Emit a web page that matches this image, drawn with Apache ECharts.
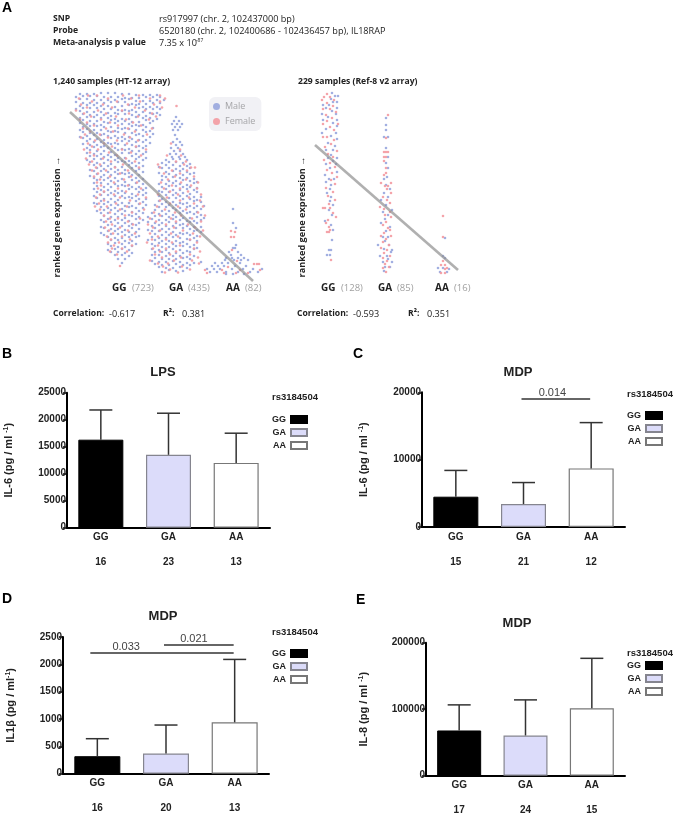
<!DOCTYPE html>
<html><head><meta charset="utf-8">
<style>html,body{margin:0;padding:0;background:#fff}#c{width:675px;height:816px}</style>
<script src="https://cdn.jsdelivr.net/npm/echarts@6/dist/echarts.min.js"></script>
</head><body><div id="c"></div>
<script>
// Swarm rows: [rank, swarmX, swarmX, ...]
const htGGMale=[[192,101,108,115],[191,80,87,94,122,129],[190,136,143,150,157],[189,83,90,97],[188,76,104,111,118],[187,125,132,139],[188,146,153,160],[186,80,87,122,129],[185,94,101,108,115],[184,136,143,150],[185,157,164],[183,76,111,118,125],[182,83,90,97,104],[181,132,139,146],[182,153,160],[180,87,94,129,136],[179,80,101,108,122],[178,115,143,150,157],[177,83,90,97,139],[176,76,104,111,146,153],[175,118,125,132],[176,160],[174,80,122,129],[173,87,94,101,136,143],[172,108,115,150,157],[171,83,118,125,153],[170,90,97,104,132,139],[169,111,146],[170,160],[168,87,94,136],[167,80,101,108,143,150],[166,115,122,129,157],[165,83,111,146],[164,90,97,118,125,153],[163,104,132,139],[162,80,108,115,150],[161,87,94,122,129],[160,101,136,143],[159,90,97,132,139],[158,83,104,111,146],[157,118,125,153],[156,87,122,129],[155,80,94,101,136,143],[154,108,115,150],[153,83,111,118,146],[152,90,97,125,132],[151,104,139,153],[150,94,101,136],[149,87,108,115,143],[148,80,122,129,150],[147,83,111,118],[146,90,97,125,132],[145,104,139,146],[144,87,122,129],[143,94,101,136,143],[142,108,115,150],[141,83,111,118],[140,90,97,125,132],[139,104,139,146],[138,94,101,136],[137,87,108,115,143],[136,122,129],[135,90,118,125],[134,97,104,132,139],[133,111,146],[132,87,122,129],[131,94,101,136,143],[130,108,115],[129,90,97,132],[128,104,111,139],[127,118,125,146],[126,94,101,136],[125,87,108,115,143],[124,122,129],[123,90,118,125],[122,97,104,132,139],[121,111],[120,94,129],[119,101,108,136,143],[118,115,122],[117,97,132],[116,104,111,139],[115,90,118,125],[114,94,101,136],[113,108,115,143],[112,122,129],[111,97,118,125],[110,104,111,132,139],[109,90],[108,101,129],[107,94,108,115,136],[106,122,143],[105,97,104,132],[104,111,118,139],[103,125],[102,94,101,136],[101,108,115,143],[100,122,129],[99,97,118,125],[98,104,111,132,139],[97,146],[96,94,129,136],[95,101,108,143],[94,115,122],[93,97,104,139],[92,111,118,125,146],[91,132],[90,101,108,143],[89,94,115,122,136],[88,129],[87,97,125,132],[86,104,111,139,146],[85,118],[84,101,136],[83,108,115,143],[82,94,122,129],[81,97,104,139],[80,111,118,146],[79,125,132],[78,101,129],[77,108,115,136,143],[76,122],[75,104,111],[74,97,118,125,139],[73,132],[72,101,108,143],[71,115,122,136],[70,129],[69,104,132],[68,111,118,139],[67,125],[66,108,136],[65,101,115,122,143],[64,129],[63,104,111],[62,118,125,139],[61,132],[60,108,136],[59,115,122,129],[58,101],[57,104,132],[56,111,118,139],[55,125],[54,108,115],[53,122,129,136],[52,101],[51,111,118],[50,104,125,132],[49,139],[48,108,129,136],[47,115,122],[45,111,118],[44,125,132],[42,115,129],[41,108,122,136],[39,111,132],[38,118,125],[36,115,122],[35,108,129],[33,111,118],[32,125,132],[30,115,122],[29,129],[26,118,125],[22,122]];
const htGGFemale=[[189.5,88,97,123,139,160],[186.5,79,108,131,150,165],[183.5,92,117,140,160],[180.5,81,103,128,154],[177.5,87,112,135,162],[174.5,76,98,122,145],[171.5,84,106,129,152],[168.5,91,116,138,156],[165.5,80,101,126,149],[162.5,87,110,133],[159.5,94,118,141],[156.5,83,106,128,152],[153.5,90,113,135],[150.5,85,100,124,147],[147.5,81,108,130],[144.5,95,117,138],[141.5,88,104,127],[138.5,92,112,136],[135.5,84,98,122,146],[132.5,90,109,131],[129.5,94,117,141],[126.5,86,103,126],[123.5,92,111,135],[120.5,89,100,123],[117.5,96,115,139],[114.5,92,106,128],[111.5,98,120],[108.5,94,110,131],[105.5,100,124],[102.5,97,114,137],[99.5,101,128],[96.5,98,118,141],[93.5,104,126],[90.5,100,114,138],[87.5,96,120,146],[84.5,104,130],[81.5,99,116,140],[78.5,95,107,127],[75.5,100,120,144],[72.5,110,132],[69.5,104,125],[66.5,110,118,140],[63.5,106,128],[60.5,112,133],[57.5,105,120],[54.5,109,128],[51.5,113,135],[48.5,107,122],[45.5,111,130],[42.5,108,119],[39.5,114,132],[36.5,112,122],[33.5,110,127],[30.5,117],[19,120]];
const htGAMale=[[168,176],[164,174,179],[161,172,177,182],[158,175,180],[155,173,178],[150,175],[146,177],[143,173,180],[140,176,182],[137,171,178],[134,174,180],[131,170,176,183],[128,172,179,185],[126,173,180],[125,166,187],[123,169,176],[122,162,183],[121,190],[120,166,173],[119,180,187],[118,159],[117,162,169,190],[116,176,183],[114,173,180],[113,166,187],[112,159,194],[111,169,190],[110,176,183],[109,162],[108,166,173],[107,180,187],[106,194],[105,162,183],[104,169,176,190],[103,197],[102,173,194],[101,159,166,180],[100,187],[99,169,176],[98,162,183,190],[97,197],[96,166,187],[95,173,180,194],[94,159],[93,162,169,197],[92,176,183],[91,190],[90,166,173],[89,159,180,187],[88,194,201],[87,169,176],[86,162,183,190],[85,197],[84,159,194],[83,166,173,201],[82,180,187],[81,162,183],[80,155,169,176],[79,190,197,204],[78,159,166,187],[77,173,180,194],[76,201],[75,155,176],[74,162,169,183],[73,190,197],[72,152,180,187],[71,159,166,194],[70,173,201],[69,155,162],[68,148,169,176,197],[67,183,190,204],[66,152,173],[65,159,166,180,201],[64,187,194],[63,148,169,190],[62,155,162,176,197],[61,183],[60,159,180],[59,152,166,173,187],[58,194,201],[57,155,176,183],[56,162,169,190],[55,148,197],[54,152,159,194],[53,166,173,201],[52,180,187],[51,155,183],[50,162,169,176,190],[49,197],[48,152,173],[47,159,166,180,194],[46,187],[45,148,155,190],[44,162,169,176,197],[43,183],[42,159,180],[41,152,166,173,187],[40,194],[39,155,176,183],[38,162,169,190],[37,197],[36,152,173,194],[35,159,166,180],[34,187],[33,155,162,190],[32,169,176,183],[30,152,159],[29,166,173,180,194],[28,187],[27,155,183],[26,162,169,176,190],[24,152,173],[23,159,166,180,201],[22,187,194],[21,155,176],[20,162,169,183,190],[18,159,180],[17,166,173,187],[15,169],[14,176,183],[13,162]];
const htGAFemale=[[179,176.5],[141.5,171],[135.5,180],[129.5,167,181],[123.5,176,186],[120.5,158,184],[117.5,160,191,195],[114.5,172,187],[111.5,164,180],[108.5,175,194],[105.5,168,186],[102.5,161,181,198],[99.5,172,191],[96.5,164,180,197],[93.5,170,188],[90.5,158,178,201],[87.5,167,189],[84.5,160,180,200],[81.5,170,194],[78.5,157,178,203],[75.5,165,186],[72.5,154,175,198],[69.5,160,181,205],[66.5,150,171,192],[63.5,156,176,201],[60.5,148,166,188],[57.5,153,174,195],[54.5,160,183,203],[51.5,150,171,193],[48.5,158,178,200],[45.5,152,166,190],[42.5,147,172,197],[39.5,158,180],[36.5,153,166,194],[33.5,160,176,200],[30.5,155,170,190],[27.5,162,181,198],[24.5,150,174,192],[21.5,158,168,199],[18.5,163,182],[15.5,170,190],[12.5,165,178]];
const htAAMale=[[76,233],[62,233],[57,236],[40,236],[37,233,235],[33,229,238],[30,231,241],[27,226,232,238,244],[25,225,234,241,248],[22,215,222,228,240],[19,212,218,224,235,246],[16,207,214,220,232,243,253,262],[13,210,217,226,238,250,258],[11,226,233,244]];
const htAAFemale=[[54,231],[53,235],[48,231,234],[35,232],[24,237],[21,254,257,259],[18,228],[15,205,222,240,260],[12,207,224,236,248]];
const refGGMale=[[192,332],[189,335,338],[186,331],[183,333,337],[180,323,329],[177,337,326],[174,332],[171,322,336],[168,328],[165,323,337],[162,333],[159,337],[156,326],[152,322,336],[149,331],[146,337],[142,328],[139,335],[135,326,333],[130,331],[127,328,337],[124,333],[121,326,336],[117,330],[113,337],[110,325],[106,329,334],[103,326],[100,331],[96,330],[92,327],[88,331],[84,330],[80,333],[75,329],[70,332],[64,325],[60,331],[55,333],[45,332],[35,329,331],[30,327,330]];
const refGGFemale=[[191,327],[188,324,330],[185,322,334],[182,327],[179,333],[176,323,330],[173,336],[170,326],[167,332],[164,327],[161,323,338],[158,330],[155,334],[148,323,327],[145,334],[141,331],[138,325],[134,337],[131,328],[128,333],[125,324],[122,330],[118,335],[115,327],[112,332],[108,337],[105,331],[101,335],[97,326],[93,333],[89,328],[85,335],[81,329],[77,323,325,330],[72,333],[68,336],[65,328],[62,326],[58,329],[55,330],[53,327,329],[25,331]];
const refGAMale=[[167,386],[160,386],[155,386],[148,384,388],[137,386],[128,388],[122,386],[117,388],[108,387],[106,384],[100,386],[96,390],[92,384],[88,388],[85,381],[80,386],[75,392],[73,383],[70,388],[66,385],[62,381],[58,390],[54,386],[48,383,388],[44,385],[40,378,389],[36,384],[35,392],[33,391],[29,380,387],[26,388],[23,383,392],[18,385,390],[14,384]];
const refGAFemale=[[170,388],[147,386],[133,384,386,388],[128,384,386],[124,384],[117,386],[112,386],[110,384],[102,381,391],[99,385,388],[96,387],[92,391],[88,383],[85,387],[82,390],[78,380],[76,384],[73,390],[70,385],[68,391],[63,386],[60,383],[57,388],[55,390],[52,384],[49,381,391],[46,386],[43,383],[40,389],[37,381],[35,387],[32,384],[29,390],[27,383],[24,387],[21,385],[18,389],[17,383],[13,386]];
const refAAMale=[[47,445],[29,443],[27,445],[17,438,443],[16,449],[13,440,447]];
const refAAFemale=[[69,443],[48,443],[24,443],[20,441,445],[17,447],[16,445],[12,441,445]];
const htRegression=[[70,173],[253,4]];
const refRegression=[[315,140],[458,15]];
// Bar panels
const genotypes=['GG','GA','AA'];
const lpsIl6Means=[16300,13500,12000], lpsIl6Tops=[21800,21200,17500], lpsIl6N=[16,23,13];
const mdpIl6Means=[4500,3400,8700], mdpIl6Tops=[8400,6600,15500], mdpIl6N=[15,21,12];
const mdpIl1Means=[320,370,940], mdpIl1Tops=[640,890,2090], mdpIl1N=[16,20,13];
const mdpIl8Means=[68000,60500,101500], mdpIl8Tops=[106500,114000,176500], mdpIl8N=[17,24,15];
const mdpIl6Sig=[[1,2,19000,'0.014']];
const mdpIl1Sig=[[0,2,2207,'0.033'],[1,2,2353,'0.021']];

const SANS='"Liberation Sans",Arial,sans-serif', HUM='"Open Sans",sans-serif';
const flat=rows=>rows.flatMap(r=>r.slice(1).map(x=>[x,r[0]]));
const panels=[
 {grid:{left:67,top:392.7,width:203,height:135},max:25000,interval:5000,means:lpsIl6Means,tops:lpsIl6Tops,n:lpsIl6N,bw:45,name:'IL-6 (pg / ml ',gap:52,sig:[],at:[],sx:[],leg:{left:272,top:415}},
 {grid:{left:422,top:392.3,width:203,height:134.7},max:20000,interval:10000,means:mdpIl6Means,tops:mdpIl6Tops,n:mdpIl6N,bw:45,name:'IL-6 (pg / ml ',gap:52,sig:mdpIl6Sig,at:[.45],sx:[-2],leg:{left:627,top:411}},
 {grid:{left:63,top:637,width:206,height:136.7},max:2500,interval:500,means:mdpIl1Means,tops:mdpIl1Tops,n:mdpIl1N,bw:46,name:'IL1β (pg / ml',gap:46,sig:mdpIl1Sig,at:[.25,.43],sx:[-7,-2],leg:{left:272,top:649}},
 {grid:{left:426,top:642.7,width:199,height:133},max:200000,interval:100000,means:mdpIl8Means,tops:mdpIl8Tops,n:mdpIl8N,bw:44,name:'IL-8 (pg / ml ',gap:56,sig:[],at:[],sx:[],leg:{left:627,top:661}}
];
const barStyle=[{color:'#000',borderColor:'#000',borderWidth:1},{color:'#dcdcfa',borderColor:'#85858f',borderWidth:1.2},{color:'#fff',borderColor:'#777',borderWidth:1.2}];
const grids=[{left:60,top:85,width:210,height:200},{left:310,top:85,width:160,height:200}];
const xAxes=[{gridIndex:0,type:'value',min:60,max:270,show:false},{gridIndex:1,type:'value',min:310,max:470,show:false}];
const yAxes=[{gridIndex:0,type:'value',min:0,max:200,show:false},{gridIndex:1,type:'value',min:0,max:200,show:false}];
const dot=(name,g,rows,color)=>({name,type:'scatter',xAxisIndex:g,yAxisIndex:g,data:rows.flatMap(flat),symbolSize:2.6,itemStyle:{color,opacity:.9},silent:true});
const MALE='#98a6de',FEMALE='#f39aa1';
const series=[
 dot('Male',0,[htGGMale,htGAMale,htAAMale],MALE),dot('Female',0,[htGGFemale,htGAFemale,htAAFemale],FEMALE),
 dot('Male',1,[refGGMale,refGAMale,refAAMale],MALE),dot('Female',1,[refGGFemale,refGAFemale,refAAFemale],FEMALE),
 ...[[0,htRegression],[1,refRegression]].map(([g,d])=>({type:'line',xAxisIndex:g,yAxisIndex:g,data:d,showSymbol:false,z:5,lineStyle:{color:'#8f8f8f',width:2.6,opacity:.7}}))
];
const legends=[{data:['Male','Female'],left:209,top:97,padding:[5,6,5,4],orient:'vertical',itemWidth:7,itemHeight:7,itemGap:6,icon:'circle',backgroundColor:'#f1f1f5',borderRadius:6,selectedMode:false,textStyle:{fontFamily:HUM,fontSize:9,color:'#a5a5a8'}}];
panels.forEach((p,k)=>{
 const g=k+2;
 grids.push(p.grid);
 xAxes.push({gridIndex:g,type:'category',data:genotypes,axisLine:{lineStyle:{color:'#000',width:2}},axisTick:{show:false},
  axisLabel:{margin:4,formatter:(v,i)=>`{a|${v}}\n{b|${p.n[i]}}`,rich:{a:{fontFamily:SANS,fontSize:10,fontWeight:'bold',color:'#222',lineHeight:12},b:{fontFamily:SANS,fontSize:10,fontWeight:'bold',color:'#222',lineHeight:38}}}});
 yAxes.push({gridIndex:g,type:'value',min:0,max:p.max,interval:p.interval,splitLine:{show:false},
  axisLine:{show:true,lineStyle:{color:'#000',width:2}},axisTick:{show:true,length:4,lineStyle:{color:'#000',width:1.5}},
  axisLabel:{margin:1,fontFamily:SANS,fontSize:10,fontWeight:'bold',color:'#222',formatter:v=>String(v)},
  name:`{m|${p.name}}{s|-1}{m|)}`,nameLocation:'middle',nameGap:p.gap,nameRotate:90,
  nameTextStyle:{rich:{m:{fontFamily:SANS,fontSize:11,fontWeight:'bold',color:'#222'},s:{fontFamily:SANS,fontSize:7,fontWeight:'bold',color:'#222',verticalAlign:'top',padding:[0,0,5,0]}}}});
 genotypes.forEach((gt,j)=>series.push({name:gt,type:'bar',xAxisIndex:g,yAxisIndex:g,barWidth:p.bw,barGap:'-100%',data:p.means.map((v,i)=>i===j?v:null),itemStyle:barStyle[j]}));
 series.push({type:'custom',xAxisIndex:g,yAxisIndex:g,silent:true,clip:false,z:3,data:p.means.map((m,i)=>[i,m,p.tops[i]]),encode:{x:0,y:[1,2]},
  renderItem:(params,api)=>{const a=api.coord([api.value(0),api.value(1)]),b=api.coord([api.value(0),api.value(2)]);const st={stroke:'#333',lineWidth:1.5,fill:null};
   return {type:'group',children:[{type:'line',shape:{x1:a[0],y1:a[1],x2:b[0],y2:b[1]},style:st},{type:'line',shape:{x1:b[0]-11.5,y1:b[1],x2:b[0]+11.5,y2:b[1]},style:st}]};}});
 if(p.sig.length) series.push({type:'custom',xAxisIndex:g,yAxisIndex:g,silent:true,clip:false,z:4,data:p.sig.map(s=>[s[0],s[1],s[2]]),encode:{x:[0,1],y:2},
  renderItem:(params,api)=>{const i=params.dataIndex,s=p.sig[i],a=api.coord([s[0],s[2]]),b=api.coord([s[1],s[2]]);const x1=a[0]+p.sx[i],x2=b[0]-1;
   return {type:'group',children:[{type:'line',shape:{x1,y1:a[1],x2,y2:b[1]},style:{stroke:'#333',lineWidth:1.5}},
    {type:'text',style:{x:x1+(x2-x1)*p.at[i],y:a[1]-6,text:s[3],fontFamily:SANS,fontSize:11,fill:'#444',align:'center',verticalAlign:'middle'}}]};}});
 legends.push({data:genotypes,left:p.leg.left,top:p.leg.top,orient:'vertical',align:'right',padding:0,icon:'rect',itemWidth:16,itemHeight:7,itemGap:4,selectedMode:false,textStyle:{fontFamily:SANS,fontSize:9,fontWeight:'bold',color:'#222',width:14}});
});
const T=(x,y,text,o={})=>({type:'text',x,y,rotation:o.rot||0,silent:true,style:{x:0,y:0,text,fontFamily:o.f||HUM,fontSize:o.s||9.1,fontWeight:o.w||'normal',fill:o.c||'#222',align:o.a||'left',verticalAlign:'middle'}});
const B={w:'bold',s:8.6};const BB={f:SANS,s:14,w:'bold',c:'#000'};const GR={c:'#a0a0a0',s:9.5};const L={w:'bold',s:10};const H={f:SANS,s:13,w:'bold',a:'center'};
const graphic=[
 T(2,8,'A',BB),T(2,354,'B',BB),T(353,354,'C',BB),T(2,599,'D',BB),T(356,600,'E',BB),
 T(53,19,'SNP',B),T(53,31,'Probe',B),T(53,43,'Meta-analysis p value',B),
 T(159,19,'rs917997 (chr. 2, 102437000 bp)'),T(159,31,'6520180 (chr. 2, 102400686 - 102436457 bp), IL18RAP'),T(159,43,'7.35 x 10'),T(196,41,'-87',{s:5}),
 T(53,82,'1,240 samples (HT-12 array)',B),T(298,82,'229 samples (Ref-8 v2 array)',B),
 T(57,217,'ranked gene expression →',{rot:Math.PI/2,a:'center',w:'bold',s:9.2}),T(302,217,'ranked gene expression →',{rot:Math.PI/2,a:'center',w:'bold',s:9.2}),
 T(112,288,'GG',L),T(132,288,'(723)',GR),T(169,288,'GA',L),T(188,288,'(435)',GR),T(226,288,'AA',L),T(245,288,'(82)',GR),
 T(321,288,'GG',L),T(341,288,'(128)',GR),T(378,288,'GA',L),T(397,288,'(85)',GR),T(435,288,'AA',L),T(454,288,'(16)',GR),
 T(53,314,'Correlation:',B),T(109,314,'-0.617'),T(163,314,'R²:',B),T(182,314,'0.381'),
 T(297,314,'Correlation:',B),T(353,314,'-0.593'),T(408,314,'R²:',B),T(427,314,'0.351'),
 T(163,372,'LPS',H),T(518,372,'MDP',H),T(163,616,'MDP',H),T(517,623,'MDP',H),
 ...[[272,397],[627,394],[272,632],[627,653]].map(([x,y])=>T(x,y,'rs3184504',{f:SANS,s:9.5,w:'bold'}))
];
const chart=echarts.init(document.getElementById('c'),null,{renderer:'canvas'});
chart.setOption({animation:false,grid:grids,xAxis:xAxes,yAxis:yAxes,legend:legends,series,graphic});
</script></body></html>
